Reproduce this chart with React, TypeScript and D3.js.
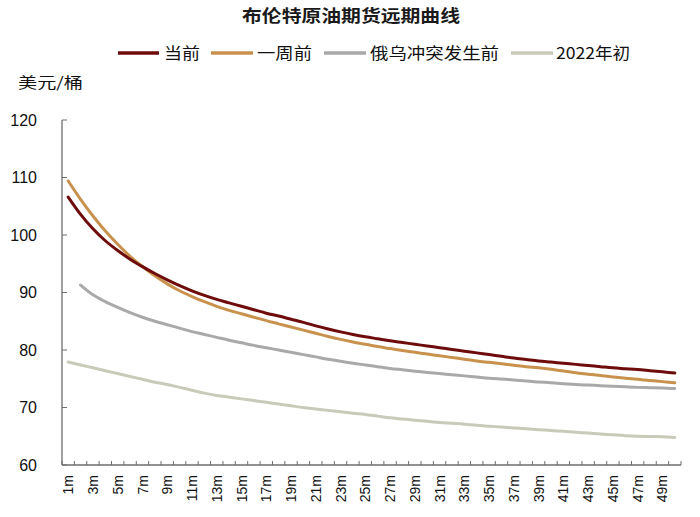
import React from "react";
import * as d3 from "d3";

const months: string[] = Array.from({ length: 50 }, (_, i) => `${i + 1}m`);
const tickLabels: string[] = ["1m","3m","5m","7m","9m","11m","13m","15m","17m","19m","21m","23m","25m","27m","29m","31m","33m","35m","37m","39m","41m","43m","45m","47m","49m"];
const yTicks: number[] = [60, 70, 80, 90, 100, 110, 120];

const seriesNames: string[] = ["当前", "一周前", "俄乌冲突发生前", "2022年初"];

const current: (number | null)[] = [
  106.6, 103.6, 101.1, 99.0, 97.3, 95.8, 94.5, 93.3, 92.2, 91.2,
  90.3, 89.5, 88.8, 88.2, 87.6, 87.0, 86.4, 85.9, 85.35, 84.8,
  84.2, 83.65, 83.15, 82.7, 82.3, 81.95, 81.6, 81.3, 81.0, 80.7,
  80.4, 80.1, 79.8, 79.5, 79.2, 78.9, 78.6, 78.35, 78.1, 77.9,
  77.7, 77.5, 77.3, 77.1, 76.9, 76.75, 76.6, 76.4, 76.2, 76.0,
];
const weekAgo: (number | null)[] = [
  109.4, 106.2, 103.3, 100.7, 98.4, 96.3, 94.5, 92.9, 91.5, 90.3,
  89.3, 88.4, 87.6, 86.9, 86.3, 85.7, 85.1, 84.55, 84.0, 83.45,
  82.9, 82.35, 81.85, 81.4, 81.0, 80.6, 80.25, 79.9, 79.6, 79.3,
  79.0, 78.7, 78.4, 78.1, 77.85, 77.6, 77.35, 77.1, 76.9, 76.65,
  76.35, 76.05, 75.8, 75.55, 75.3, 75.1, 74.9, 74.7, 74.5, 74.3,
];
const preWar: (number | null)[] = [
  null, 91.3, 89.6, 88.4, 87.4, 86.5, 85.7, 85.0, 84.4, 83.8,
  83.2, 82.7, 82.2, 81.7, 81.25, 80.8, 80.4, 80.0, 79.6, 79.2,
  78.8, 78.4, 78.05, 77.7, 77.4, 77.1, 76.8, 76.55, 76.3, 76.1,
  75.9, 75.7, 75.5, 75.3, 75.1, 74.95, 74.8, 74.6, 74.45, 74.3,
  74.15, 74.0, 73.9, 73.8, 73.7, 73.6, 73.5, 73.45, 73.4, 73.3,
];
const start2022: (number | null)[] = [
  77.9, 77.4, 76.9, 76.4, 75.9, 75.4, 74.9, 74.4, 74.0, 73.5,
  73.0, 72.5, 72.1, 71.8, 71.5, 71.2, 70.9, 70.6, 70.3, 70.0,
  69.75, 69.5, 69.25, 69.0, 68.8, 68.5, 68.2, 68.0, 67.8, 67.6,
  67.4, 67.25, 67.1, 66.9, 66.75, 66.6, 66.45, 66.3, 66.15, 66.0,
  65.85, 65.7, 65.55, 65.4, 65.25, 65.1, 65.0, 64.95, 64.9, 64.8,
];

const seriesData = [current, weekAgo, preWar, start2022];
const colors = ["#6E0B0B", "#C8924E", "#A9A9A9", "#CACABA"];

const W = 700;
const H = 517;
const left = 62;
const right = 681;
const top = 120;
const bottom = 465;

const CJK = "'Noto Sans CJK SC', 'Noto Sans', sans-serif";
const LAT = "'Liberation Sans', Arial, sans-serif";

export default function App() {
  const x = d3.scaleBand<string>().domain(months).range([left, right]).padding(0);
  const bw = x.bandwidth();
  const cx = (m: string) => (x(m) as number) + bw / 2;
  const y = d3.scaleLinear().domain([60, 120]).range([bottom, top]);

  const line = d3
    .line<number | null>()
    .defined((d) => d !== null)
    .x((_, i) => cx(months[i]))
    .y((d) => y(d as number))
    .curve(d3.curveMonotoneX);

  const legendItems = [
    { x1: 118, x2: 159, tx: 164, tl: 36 },
    { x1: 211, x2: 253, tx: 257, tl: 55 },
    { x1: 324, x2: 366, tx: 370, tl: 129 },
    { x1: 511, x2: 553, tx: 556, tl: 74 },
  ];

  const boundaries = months.map((m) => x(m) as number).concat([right]);

  return (
    <svg
      width={W}
      height={H}
      style={{ position: "absolute", left: 0, top: 0, background: "#fff" }}
    >
      <text
        x={351}
        y={22}
        textAnchor="middle"
        fontFamily={CJK}
        fontWeight="bold"
        fontSize={17}
        textLength={218}
        lengthAdjust="spacingAndGlyphs"
        fill="#1a1a1a"
      >
        布伦特原油期货远期曲线
      </text>

      {legendItems.map((it, i) => (
        <g key={seriesNames[i]}>
          <line x1={it.x1} x2={it.x2} y1={53} y2={53} stroke={colors[i]} strokeWidth={3.5} />
          <text
            x={it.tx}
            y={53}
            dy="0.36em"
            fontFamily={CJK}
            fontSize={16}
            textLength={it.tl}
            lengthAdjust="spacingAndGlyphs"
            fill="#111"
          >
            {seriesNames[i]}
          </text>
        </g>
      ))}

      <text
        x={18}
        y={83}
        dy="0.36em"
        fontFamily={CJK}
        fontSize={15}
        textLength={65}
        lengthAdjust="spacingAndGlyphs"
        fill="#111"
      >
        美元/桶
      </text>

      {yTicks.map((t) => (
        <g key={t}>
          <line x1={left} x2={left + 5} y1={y(t)} y2={y(t)} stroke="#6e6e6e" strokeWidth={1} />
          <text
            x={37}
            y={y(t)}
            dy="0.36em"
            textAnchor="end"
            fontFamily={LAT}
            fontSize={16}
            fill="#111"
          >
            {t}
          </text>
        </g>
      ))}
      <line x1={left} x2={left} y1={top} y2={bottom} stroke="#6e6e6e" strokeWidth={1.3} />

      <line x1={left} x2={right} y1={bottom} y2={bottom} stroke="#6e6e6e" strokeWidth={1.3} />
      {boundaries.map((bx, i) => (
        <line key={i} x1={bx} x2={bx} y1={bottom} y2={bottom - 4} stroke="#6e6e6e" strokeWidth={1} />
      ))}
      {tickLabels.map((lab) => (
        <text
          key={lab}
          transform={`translate(${cx(lab)},${475}) rotate(-90)`}
          dy="0.36em"
          textAnchor="end"
          fontFamily={LAT}
          fontSize={14}
          fill="#111"
        >
          {lab}
        </text>
      ))}

      {seriesData.map((s, i) => (
        <path
          key={i}
          d={line(s) || ""}
          fill="none"
          stroke={colors[i]}
          strokeWidth={3}
          strokeLinecap="round"
          strokeLinejoin="round"
        />
      )).reverse()}
    </svg>
  );
}
